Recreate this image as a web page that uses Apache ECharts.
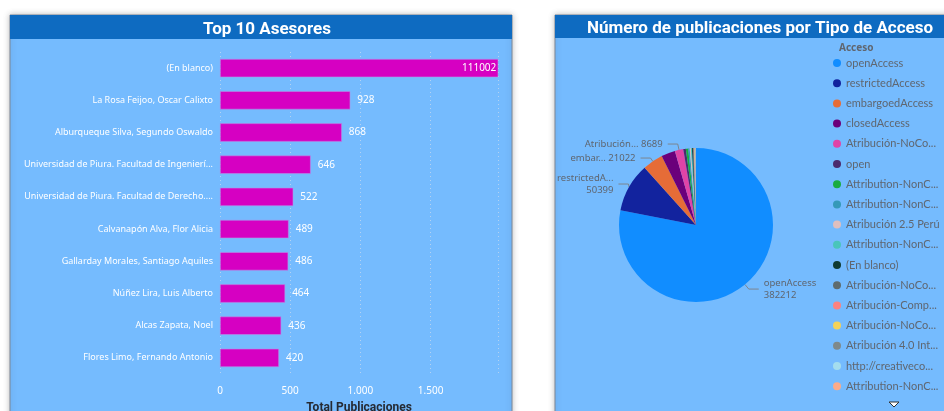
<!DOCTYPE html>
<html>
<head>
<meta charset="utf-8">
<script src="https://cdn.jsdelivr.net/npm/echarts@6/dist/echarts.min.js"></script>
<style>
  html, body { margin: 0; padding: 0; background: #ffffff; }
  #main { width: 944px; height: 411px; }
</style>
</head>
<body>
<div id="main"></div>
<script>
// Top 10 asesores (barras)
const asesores = [
  '(En blanco)',
  'La Rosa Feijoo, Oscar Calixto',
  'Alburqueque Silva, Segundo Oswaldo',
  'Universidad de Piura. Facultad de Ingenierí...',
  'Universidad de Piura. Facultad de Derecho....',
  'Calvanapón Alva, Flor Alicia',
  'Gallarday Morales, Santiago Aquiles',
  'Núñez Lira, Luis Alberto',
  'Alcas Zapata, Noel',
  'Flores Limo, Fernando Antonio'
];
const publicaciones = [111002, 928, 868, 646, 522, 489, 486, 464, 436, 420];
const ejeTicks = [0, 500, 1000, 1500];

// Tipo de acceso (pie)
const accesos = [
  'openAccess',
  'restrictedAccess',
  'embargoedAccess',
  'closedAccess',
  'Atribución-NoComercial-SinDerivadas 4.0 Internacional',
  'open',
  'Attribution-NonCommercial-NoDerivatives 4.0 International',
  'Attribution-NonCommercial-ShareAlike 4.0 International',
  'Atribución 2.5 Perú',
  'Attribution-NonCommercial 4.0 International',
  '(En blanco)',
  'Atribución-NoComercial-CompartirIgual 4.0 Internacional',
  'Atribución-CompartirIgual 4.0 Internacional',
  'Atribución-NoComercial 4.0 Internacional',
  'Atribución 4.0 Internacional',
  'http://creativecommons.org/licenses/by-nc-nd/4.0/',
  'Attribution-NonCommercial-NoDerivs 2.5'
];
const totales = [382212, 50399, 21022, 14300, 8689, 2600, 2400, 1500, 1300, 1100, 900, 800, 650, 550, 450, 380, 320];
const coloresAcceso = ['#118DFF', '#12239E', '#E66C37', '#6B007B', '#E044A7', '#4B2A6E', '#1AAB40', '#3599B8',
  '#DFBFBF', '#4AC5BB', '#0F3B32', '#5F6B6D', '#FB8281', '#F4D25A', '#7F898A', '#A4DDEE', '#FDAB89'];
// etiquetas que muestra el grafico (recortadas)
const etiquetasPie = { 0: 'openAccess\n', 1: 'restrictedA...\n', 2: 'embar... ', 4: 'Atribución... ' };

const fondoPanel = '#75BBFE';
const fondoHeader = '#0E6BC1';
const fuente = '"Noto Sans", "Open Sans", sans-serif';

let chart = echarts.init(document.getElementById('main'), null, { renderer: 'canvas' });

let pieData = accesos.map((n, i) => {
  let d = { name: n, value: totales[i], itemStyle: { color: coloresAcceso[i] } };
  if (etiquetasPie[i] !== undefined) {
    d.label = { show: true, formatter: etiquetasPie[i] + totales[i] };
    d.labelLine = { show: true };
  }
  return d;
});

let barData = publicaciones.map((v, i) => {
  if (i === 0) return { value: v, label: { position: 'insideRight', distance: 2 } };
  return v;
});

let option = {
  backgroundColor: '#ffffff',
  animation: false,
  graphic: [
    // panel izquierdo
    { type: 'rect', z: -10, shape: { x: 10, y: 15, width: 502, height: 410 },
      style: { fill: fondoPanel, stroke: '#7d8796', lineWidth: 1, shadowBlur: 6, shadowColor: 'rgba(0,0,0,0.25)' } },
    { type: 'rect', z: -9, shape: { x: 10, y: 15, width: 502, height: 24 }, style: { fill: fondoHeader } },
    // panel derecho
    { type: 'rect', z: -10, shape: { x: 555, y: 15, width: 400, height: 410 },
      style: { fill: fondoPanel, stroke: '#7d8796', lineWidth: 1, shadowBlur: 6, shadowColor: 'rgba(0,0,0,0.25)' } },
    { type: 'rect', z: -9, shape: { x: 555, y: 15, width: 400, height: 23 }, style: { fill: fondoHeader } },
    // flecha de desplazamiento de la leyenda
    { type: 'polygon', z: 10, shape: { points: [[889, 402], [899, 402], [894, 407]] },
      style: { fill: '#ffffff', stroke: '#333333', lineWidth: 1 } }
  ],
  title: [
    { text: 'Top 10 Asesores', left: 262, top: 16, textAlign: 'center',
      textStyle: { color: '#ffffff', fontFamily: 'Roboto, sans-serif', fontWeight: 'bold', fontSize: 17 } },
    { text: 'Número de publicaciones por Tipo de Acceso', left: 755, top: 15, textAlign: 'center',
      textStyle: { color: '#ffffff', fontFamily: 'Roboto, sans-serif', fontWeight: 'bold', fontSize: 17 } },
    { text: 'Acceso', left: 834, top: 38,
      textStyle: { color: '#5f6670', fontFamily: fuente, fontWeight: 'bold', fontSize: 10 } }
  ],
  grid: { left: 220, right: 446, top: 52, bottom: 37, outerBoundsMode: 'none', containLabel: false },
  xAxis: {
    type: 'value',
    min: 0,
    max: 1980,
    interval: 500,
    name: 'Total Publicaciones',
    nameLocation: 'middle',
    nameGap: 28,
    nameTextStyle: { color: '#252a33', fontFamily: 'Roboto, sans-serif', fontWeight: 'bold', fontSize: 12 },
    axisLine: { show: false },
    axisTick: { show: false },
    splitLine: { show: true, lineStyle: { color: 'rgba(220,225,235,0.6)', type: [1, 3] } },
    axisLabel: {
      color: '#ffffff', fontFamily: fuente, fontSize: 10, margin: 12, showMaxLabel: false,
      formatter: v => ejeTicks.includes(v) ? String(v).replace(/\B(?=(\d{3})+(?!\d))/g, '.') : ''
    }
  },
  yAxis: {
    type: 'category',
    inverse: true,
    data: asesores,
    axisLine: { show: false },
    axisTick: { show: false },
    axisLabel: { color: '#ffffff', fontFamily: fuente, fontSize: 9, margin: 7, width: 195, overflow: 'truncate' }
  },
  legend: {
    type: 'plain',
    orient: 'vertical',
    left: 833,
    top: 57,
    padding: 0,
    icon: 'circle',
    itemWidth: 8,
    itemHeight: 8,
    itemGap: 8.2,
    data: accesos,
    textStyle: { color: '#5f6670', fontFamily: 'Lato, sans-serif', fontSize: 11, lineHeight: 12, width: 97, overflow: 'truncate', ellipsis: '...' }
  },
  series: [
    {
      type: 'bar',
      data: barData,
      barCategoryGap: '43%',
      itemStyle: { color: '#D600C2', borderColor: '#b78ee6', borderWidth: 0.6 },
      label: { show: true, position: 'right', distance: 7, color: '#ffffff', fontFamily: fuente, fontSize: 10 }
    },
    {
      type: 'pie',
      center: [696, 225],
      radius: 77,
      startAngle: 90,
      clockwise: true,
      data: pieData,
      label: { show: false, color: '#5f6670', fontFamily: fuente, fontSize: 9.5, lineHeight: 12 },
      labelLine: { show: false, length: 6, length2: 10, lineStyle: { color: '#7d8590', width: 1 } },
      emphasis: { disabled: true }
    }
  ]
};

chart.setOption(option);
</script>
</body>
</html>
